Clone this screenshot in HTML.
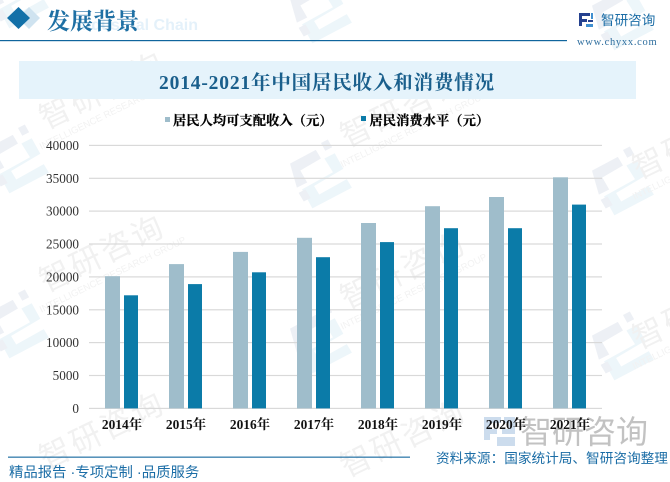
<!DOCTYPE html>
<html lang="zh">
<head>
<meta charset="utf-8">
<title>2014-2021年中国居民收入和消费情况</title>
<style>
html,body{margin:0;padding:0;background:#fff;width:670px;height:482px;overflow:hidden}
body{position:relative}
svg{position:absolute;left:0;top:0;display:block}
.sans{font-family:"Liberation Sans","Noto Sans CJK SC",sans-serif}
.serif{font-family:"Liberation Serif","Noto Serif CJK SC",serif}
</style>
</head>
<body>
<svg id="c" width="670" height="482" viewBox="0 0 670 482" xmlns="http://www.w3.org/2000/svg">
  <defs>
    <g id="wm-logo">
      <path d="M0 10 L30 -6 L36 4 L12 18 L20 32 L8 38 Z" fill="#edf0f5"/>
      <path d="M36 -14 L44 -18 L49 -9 L41 -5 Z" fill="#edf0f5"/>
      <path d="M40 4 L52 -2 L62 16 L28 36 L34 46 L66 28 L72 38 L26 62 L14 40 L50 20 Z" fill="#edf6fa"/>
      <path d="M10 44 L18 40 L24 50 L16 54 Z" fill="#edf0f5"/>
    </g>
  </defs>
  <g id="watermarks"></g>

  <g>
    <polygon points="18,18 29,7 40,18 29,29" fill="#cfe3f0"/>
    <polygon points="7,18 18.5,7 30,18 18.5,29" fill="#1270a8"/>
    <text x="198" y="30" text-anchor="end" class="sans" font-size="16" font-weight="700" fill="#e4f1fa">Industrial Chain</text>
    <text x="47" y="29" class="serif" font-size="23" font-weight="700" fill="#1f70a4">发展背景</text>
    <rect x="0" y="40" width="567" height="1.2" fill="#10659d"/>
    <g>
      <path d="M579 13h11v3h-8v3h5v3h-5v4h-3z" fill="#25418f"/>
      <path d="M591 13h2v6h-2zM586 24h7v3h-7z" fill="#3f8fd0"/>
      <path d="M588 20h5v2h-5z" fill="#25418f"/>
    </g>
    <text x="601" y="25" class="sans" font-size="13.6" fill="#1b6da6">智研咨询</text>
    <text x="577" y="45" class="serif" font-size="10.5" letter-spacing="0.72" fill="#2f6f9f">www.chyxx.com</text>
  </g>

  <rect x="19" y="61" width="617" height="38" fill="#e5f3fb"/>
  <text x="327" y="89" text-anchor="middle" class="serif" font-size="19.5" font-weight="700" letter-spacing="0.83" fill="#1a5f8c">2014-2021年中国居民收入和消费情况</text>

  <g>
    <rect x="165" y="117" width="5" height="5" fill="#9fbdcb"/>
    <text x="173" y="125" class="serif" font-size="13.3" font-weight="700" stroke="#000" stroke-width="0.25" fill="#000">居民人均可支配收入（元）</text>
    <rect x="361" y="116" width="5" height="5" fill="#0b7ba8"/>
    <text x="369.5" y="125" class="serif" font-size="13.3" font-weight="700" stroke="#000" stroke-width="0.25" fill="#000">居民消费水平（元）</text>
  </g>

  <g id="grid"></g>
  <g id="yticks"></g>
  <g id="bars"></g>

  <g>
    <path d="M484 417h17v6h-11v6h7v5h-7v6h-6zM504 417h11v17h-13v-5h7v-6h-5zM497 437h18v9h-18z" fill="#c3d6ea" opacity="0.85"/>
    <text x="520" y="443" class="sans" font-size="32" fill="#b8b8b8" opacity="0.85">智研咨询</text>
  </g>

  <g id="xticks"></g>

  <g>
    <rect x="8" y="456.6" width="402" height="1.1" fill="#10659d"/>
    <text x="9" y="477" class="sans" font-size="14.4" fill="#1b6da6">精品报告 ·专项定制 ·品质服务</text>
    <text x="436" y="463" class="sans" font-size="13.65" fill="#1b6da6">资料来源：国家统计局、智研咨询整理</text>
  </g>
</svg>
<script>
const years = ['2014年','2015年','2016年','2017年','2018年','2019年','2020年','2021年'];
const incomeValues = [20100, 21950, 23800, 25950, 28200, 30750, 32150, 35150];
const consumptionValues = [17200, 18900, 20700, 23000, 25300, 27400, 27400, 31000];
const yTickValues = [0, 5000, 10000, 15000, 20000, 25000, 30000, 35000, 40000];

const NS = 'http://www.w3.org/2000/svg';
const yScale = v => 408.4 - (v / 40000) * 263;
const xBand = i => 105 + i * 64;

function make(tag, attrs, parent, txt) {
  const el = document.createElementNS(NS, tag);
  for (const k in attrs) el.setAttribute(k, attrs[k]);
  if (txt !== undefined) el.textContent = txt;
  parent.appendChild(el);
  return el;
}

const wmLayer = document.getElementById('watermarks');
const logoSpots = [[-13,-25],[290,-10],[592,-3],[-13,140],[290,155],[592,162],[-13,305],[290,320],[592,327]];
logoSpots.forEach(p => {
  const u = make('use', {href:'#wm-logo', transform:'translate(' + p[0] + ' ' + p[1] + ') scale(0.86)'}, wmLayer);
  
  
});
const textSpots = [[107,100,1],[107,263,1],[107,440,0],[408,118,1],[408,280,1],[408,448,0],[700,150,1],[700,320,1]];
textSpots.forEach(p => {
  const g = make('g', {transform:'translate(' + p[0] + ' ' + p[1] + ') rotate(-26)', 'font-family':'"Liberation Sans","Noto Sans CJK SC",sans-serif'}, wmLayer);
  
  
  const t1 = make('text', {x:0, y:0, 'text-anchor':'middle', 'font-size':31, 'letter-spacing':3, fill:'#f1f1f1'}, g, '智研咨询');
  
  
  if (p[2]) {
    const t2 = make('text', {x:0, y:16, 'text-anchor':'middle', 'font-size':9.5, fill:'#f2f2f2'}, g, 'INTELLIGENCE RESEARCH GROUP');
    
    
  }
});

const grid = document.getElementById('grid');
const yticks = document.getElementById('yticks');
yTickValues.forEach(v => {
  const y = yScale(v);
  const line = make('rect', {x:89, y:(y - 0.6).toFixed(1), width:513, height:1.2, fill:'#d9d9d9'}, grid);
  
  
  const t = make('text', {x:79, y:(y + 4.5).toFixed(1), 'text-anchor':'end', 'font-family':'"Liberation Serif",serif', 'font-size':13.2, fill:'#333'}, yticks, String(v));
  
  
});

const bars = document.getElementById('bars');
const xticks = document.getElementById('xticks');
years.forEach((label, i) => {
  const x = xBand(i);
  const a = make('rect', {x:x, y:yScale(incomeValues[i]).toFixed(1), width:15, height:(yScale(0) - yScale(incomeValues[i])).toFixed(1), fill:'#9fbdcb'}, bars);
  
  
  const b = make('rect', {x:x + 19, y:yScale(consumptionValues[i]).toFixed(1), width:14, height:(yScale(0) - yScale(consumptionValues[i])).toFixed(1), fill:'#0b7ba8'}, bars);
  
  
  const t = make('text', {x:x + 17, y:429, 'text-anchor':'middle', 'font-family':'"Liberation Serif","Noto Serif CJK SC",serif', 'font-size':13.4, 'font-weight':700, fill:'#111'}, xticks, label);
  
  
});
</script>
</body>
</html>
